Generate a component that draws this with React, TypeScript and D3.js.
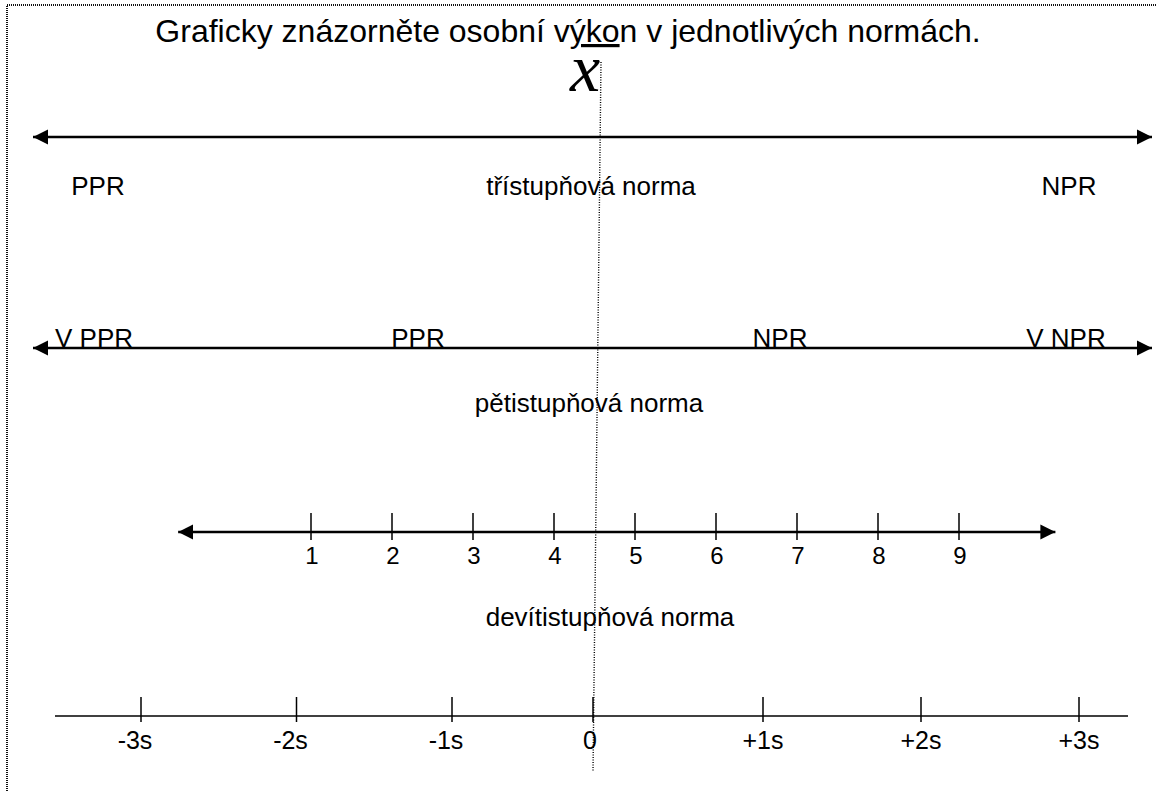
import React, { useEffect, useRef } from "react";
import * as d3 from "d3";

const titleParts = ["Graficky znázorněte osobní v", "ýko", "n v jednotlivých normách."];
const threeLevelLabels = ["PPR", "třístupňová norma", "NPR"];
const fiveLevelLabels = ["V PPR", "PPR", "NPR", "V NPR"];
const fiveLevelCaption = "pětistupňová norma";
const stanineValues = [1, 2, 3, 4, 5, 6, 7, 8, 9];
const stanineCaption = "devítistupňová norma";
const sdValues = [-3, -2, -1, 0, 1, 2, 3];
const sdLabels = ["-3s", "-2s", "-1s", "0", "+1s", "+2s", "+3s"];

const W = 1158;
const H = 791;
const FONT = "'Liberation Sans', Arial, sans-serif";

function App() {
  const ref = useRef<SVGSVGElement>(null);

  useEffect(() => {
    const svg = d3.select(ref.current);
    svg.selectAll("*").remove();

    svg.append("defs")
      .append("marker")
        .attr("id", "head")
        .attr("markerUnits", "userSpaceOnUse")
        .attr("viewBox", "0 -8 16 16")
        .attr("refX", 15)
        .attr("refY", 0)
        .attr("markerWidth", 16)
        .attr("markerHeight", 16)
        .attr("orient", "auto-start-reverse")
      .append("path")
        .attr("d", "M0,-7.5L15,0L0,7.5Z")
        .attr("fill", "#000");

    // page border (dotted, top and left only)
    svg.append("path")
      .attr("d", "M7," + H + "V5H1156")
      .attr("fill", "none")
      .attr("stroke", "#111")
      .attr("stroke-width", 2)
      .attr("stroke-dasharray", "1 1");

    // title
    const title = svg.append("text")
      .attr("x", 568)
      .attr("y", 42)
      .attr("text-anchor", "middle")
      .style("font-family", FONT)
      .style("font-size", "32px");
    titleParts.forEach((t, i) => {
      title.append("tspan")
        .text(t)
        .style("text-decoration", i === 1 ? "underline" : "none");
    });

    // x (mean)
    svg.append("text")
      .attr("x", 585)
      .attr("y", 91)
      .attr("text-anchor", "middle")
      .style("font-family", "'Liberation Serif', 'Times New Roman', serif")
      .style("font-style", "italic")
      .style("font-size", "68px")
      .text("x");

    const arrow = (x1: number, x2: number, y: number) =>
      svg.append("line")
        .attr("x1", x1).attr("x2", x2)
        .attr("y1", y).attr("y2", y)
        .attr("stroke", "#000")
        .attr("stroke-width", 2.5)
        .attr("marker-start", "url(#head)")
        .attr("marker-end", "url(#head)");

    const label = (txt: string, x: number, y: number, size: number) =>
      svg.append("text")
        .attr("x", x)
        .attr("y", y)
        .attr("text-anchor", "middle")
        .style("font-family", FONT)
        .style("font-size", size + "px")
        .text(txt);

    // trojstupňová
    arrow(33, 1152, 137);
    const x3 = d3.scaleOrdinal<string, number>()
      .domain(threeLevelLabels)
      .range([98, 591, 1069]);
    threeLevelLabels.forEach(d => label(d, x3(d), 195, 26));

    // pětistupňová
    arrow(33, 1152, 348);
    const x5 = d3.scaleOrdinal<string, number>()
      .domain(fiveLevelLabels)
      .range([94, 418, 780, 1066]);
    fiveLevelLabels.forEach(d => label(d, x5(d), 347, 26));
    label(fiveLevelCaption, 589, 412, 26);

    // devítistupňová
    const xs = d3.scaleLinear().domain([1, 9]).range([311, 959]);
    arrow(xs(-0.64), xs(10.19), 532);
    svg.append("g")
      .selectAll("line")
      .data(stanineValues)
      .join("line")
        .attr("x1", d => xs(d)).attr("x2", d => xs(d))
        .attr("y1", 513).attr("y2", 540)
        .attr("stroke", "#000")
        .attr("stroke-width", 1.5);
    stanineValues.forEach(d => label(String(d), xs(d) + 1, 564, 24));
    label(stanineCaption, 610, 626, 26);

    // standard deviation axis
    const xsd = d3.scaleLinear()
      .domain([-3, -1, 0, 1, 3])
      .range([141, 452, 593, 763, 1079]);
    svg.append("line")
      .attr("x1", 55).attr("x2", 1128)
      .attr("y1", 716).attr("y2", 716)
      .attr("stroke", "#000")
      .attr("stroke-width", 1.5);
    svg.append("g")
      .selectAll("line")
      .data(sdValues)
      .join("line")
        .attr("x1", d => xsd(d)).attr("x2", d => xsd(d))
        .attr("y1", 697).attr("y2", 722)
        .attr("stroke", "#000")
        .attr("stroke-width", 1.5);
    sdValues.forEach((d, i) =>
      label(sdLabels[i], xsd(d) + (d < 0 ? -6 : d === 0 ? -3 : 0), 749, 25));

    // mean line through all the norms
    svg.append("line")
      .attr("x1", 601).attr("y1", 62)
      .attr("x2", 593).attr("y2", 772)
      .attr("stroke", "#000")
      .attr("stroke-width", 1.4)
      .attr("stroke-dasharray", "1 1.5");
  }, []);

  return (
    <svg
      ref={ref}
      width={W}
      height={H}
      style={{ position: "absolute", left: 0, top: 0, display: "block", background: "#fff" }}
    />
  );
}

export default App;
